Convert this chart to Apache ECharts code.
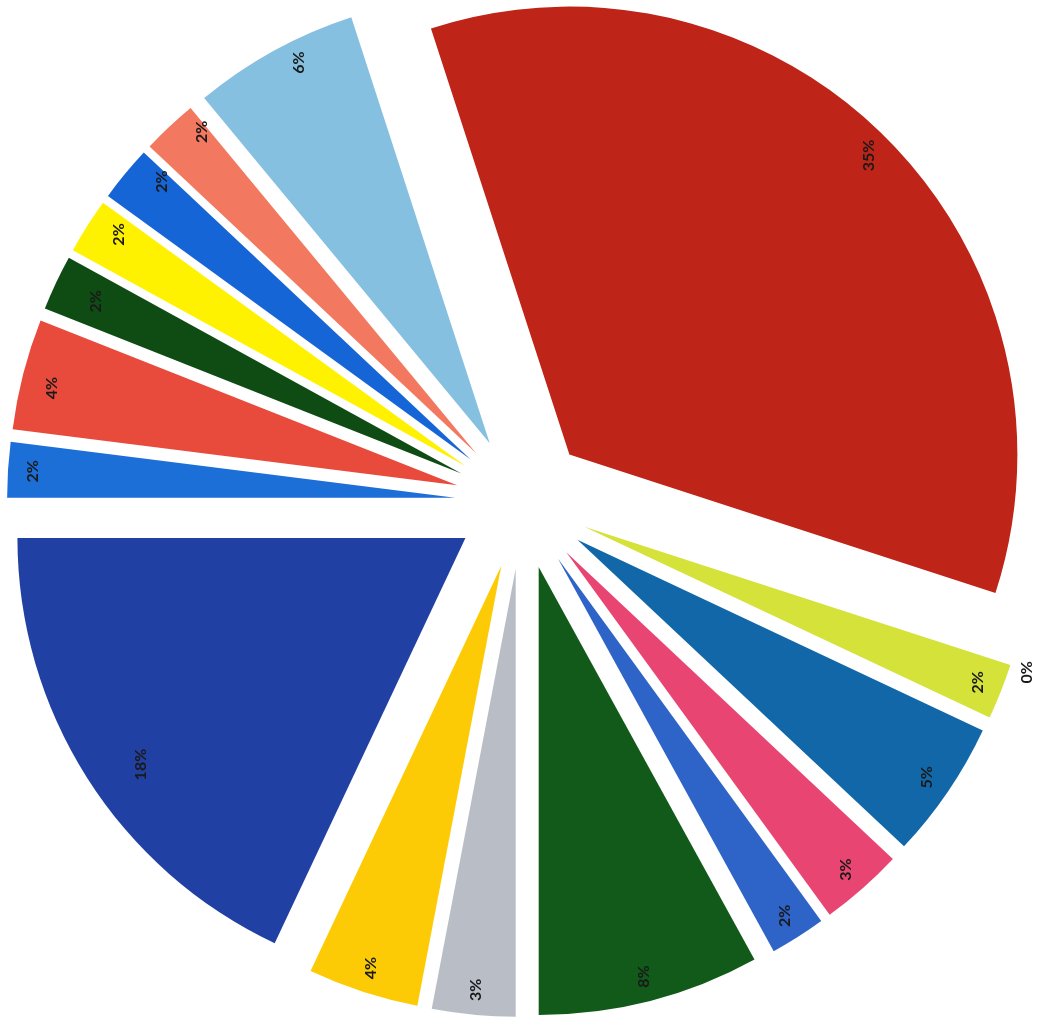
<!DOCTYPE html>
<html>
<head>
<meta charset="utf-8">
<script src="https://cdn.jsdelivr.net/npm/echarts@6/dist/echarts.min.js"></script>
<style>
  html, body { margin: 0; padding: 0; background: #ffffff; }
  #chart { width: 1038px; height: 1023px; }
</style>
</head>
<body>
<div id="chart"></div>
<script>
// Slice shares (percent), listed clockwise starting with the large red slice
const categories = ['S1', 'S2', 'S3', 'S4', 'S5', 'S6', 'S7', 'S8', 'S9',
                    'S10', 'S11', 'S12', 'S13', 'S14', 'S15', 'S16', 'S17'];
const shares = [35, 0, 2, 5, 3, 2, 8, 3, 4, 18, 2, 4, 2, 2, 2, 2, 6];
const sliceColors = ['#bf2418', '#d4e23a', '#d4e23a', '#1167a8', '#e94572', '#2e63c8',
                     '#115a1a', '#b9bdc6', '#fdcb06', '#2140a3', '#1d6fd8', '#e84b3c',
                     '#0e4c14', '#fff200', '#1565d6', '#f2795f', '#86c0e0'];

const CENTER = [522, 502];
const START = 108;      // where the first slice begins (degrees, counter-clockwise from 3 o'clock)
const EXPLODE = 67;     // outward shift of every slice

const sliceData = categories.map((name, i) => ({
  name: name,
  value: shares[i],
  selected: true,
  itemStyle: { color: sliceColors[i] }
}));

const labelData = categories.map((name, i) => ({
  name: name,
  value: shares[i],
  selected: true
}));

// Screen-space nudges [right, down] for labels that sit off the common label ring
const labelNudge = {
  1: [39, 19],     // the empty slice: label just past the rim
  9: [33, 0],      // the large blue slice: label a little further in
  11: [4, 8],
  12: [17, 8],
  13: [11, -5],
  14: [17, -8],
  15: [15, -13],
  16: [13, -10]
};

const chart = echarts.init(document.getElementById('chart'), null, { renderer: 'canvas' });
chart.setOption({
  backgroundColor: '#ffffff',
  animation: false,
  series: [
    {
      type: 'pie',
      silent: true,
      center: CENTER,
      radius: [0, 448],
      startAngle: START,
      clockwise: true,
      selectedMode: 'multiple',
      selectedOffset: EXPLODE,
      avoidLabelOverlap: false,
      label: { show: false },
      labelLine: { show: false },
      itemStyle: { borderWidth: 0 },
      data: sliceData
    },
    {
      // transparent ring that carries the percentage labels near the rim
      type: 'pie',
      silent: true,
      center: CENTER,
      radius: [392, 448],
      startAngle: START,
      clockwise: true,
      selectedMode: 'multiple',
      selectedOffset: EXPLODE,
      avoidLabelOverlap: false,
      itemStyle: { color: 'rgba(0,0,0,0)', borderWidth: 0 },
      labelLine: { show: false },
      label: {
        show: true,
        position: 'inside',
        rotate: 90,
        formatter: '{c}%',
        fontFamily: 'Lato, "Noto Sans", sans-serif',
        fontWeight: 'bold',
        fontSize: 16,
        color: '#1a1a1a'
      },
      labelLayout: function (params) {
        const n = labelNudge[params.dataIndex];
        if (!n) return {};
        // labels are turned a quarter-turn, so their local axes are rotated
        return { dx: -n[1], dy: n[0] };
      },
      data: labelData
    }
  ]
});
</script>
</body>
</html>
